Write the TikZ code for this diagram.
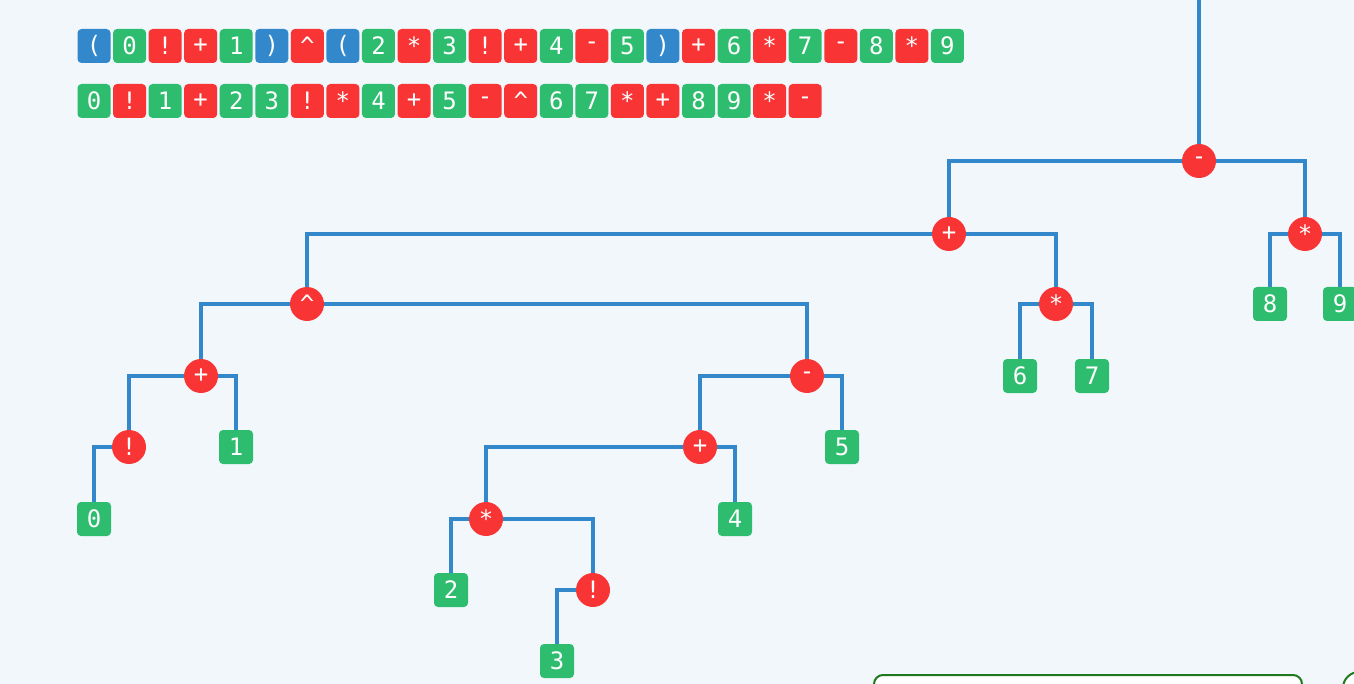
\documentclass[tikz,border=0pt]{standalone}
\usepackage{fontspec}
\setmonofont{DejaVu Sans Mono}
\usetikzlibrary{backgrounds}
\definecolor{tokblue}{HTML}{3388CC}
\definecolor{tokgreen}{HTML}{2EBD6F}
\definecolor{tokred}{HTML}{F93434}
\definecolor{paper}{HTML}{F2F7FC}
\definecolor{boxgreen}{HTML}{1F7A1F}

\begin{document}
\begin{tikzpicture}[x=1pt,y=-1pt,
  tok/.style={rounded corners=4pt, minimum width=33pt, minimum height=34pt, inner sep=0pt,
    text=white, font=\ttfamily\fontsize{24}{28}\selectfont},
  paren/.style={tok, fill=tokblue},
  num/.style={tok, fill=tokgreen},
  op/.style={tok, fill=tokred},
  leaf/.style={num, minimum width=34pt},
  opnode/.style={circle, fill=tokred, minimum size=34pt, inner sep=0pt,
    text=white, font=\ttfamily\fontsize{24}{28}\selectfont},
  edge/.style={draw=tokblue, line width=4.5pt}
]
\useasboundingbox (0,0) rectangle (1354,684);
\clip (0,0) rectangle (1354,684);

% the two token rows
\foreach \s/\t [count=\i from 0] in {paren/{(},num/0,op/!,op/+,num/1,paren/{)},op/\textasciicircum,paren/{(},num/2,op/*,num/3,op/!,op/+,num/4,op/-,num/5,paren/{)},op/+,num/6,op/*,num/7,op/-,num/8,op/*,num/9}
  \node[\s] (in\i) at (94+35.56*\i,46) {\t};
\foreach \s/\t [count=\i from 0] in {num/0,op/!,num/1,op/+,num/2,num/3,op/!,op/*,num/4,op/+,num/5,op/-,op/\textasciicircum,num/6,num/7,op/*,op/+,num/8,num/9,op/*,op/-}
  \node[\s] (rpn\i) at (94+35.56*\i,101) {\t};

% tree
\coordinate (top) at (1199,0);
\node[opnode] (root) at (1199,161) {-};
\node[opnode] (sumA) at (949,234) {+};
\node[opnode] (prodR) at (1305,234) {*};
\node[leaf] (leaf8) at (1270,304) {8};
\node[leaf] (leaf9) at (1340,304) {9};
\node[opnode] (pow) at (307,304) {\textasciicircum};
\node[opnode] (prodM) at (1056,304) {*};
\node[leaf] (leaf6) at (1020,376) {6};
\node[leaf] (leaf7) at (1092,376) {7};
\node[opnode] (sumL) at (201,376) {+};
\node[opnode] (diffM) at (807,376) {-};
\node[opnode] (fact0) at (129,447) {!};
\node[leaf] (leaf1) at (236,447) {1};
\node[leaf] (leaf0) at (94,519) {0};
\node[opnode] (sumM) at (700,447) {+};
\node[leaf] (leaf5) at (842,447) {5};
\node[opnode] (prodL) at (486,519) {*};
\node[leaf] (leaf4) at (735,519) {4};
\node[leaf] (leaf2) at (451,590) {2};
\node[opnode] (fact3) at (593,590) {!};
\node[leaf] (leaf3) at (557,661) {3};

% panels cut off at the bottom
\draw[boxgreen, line width=2pt, fill=white, rounded corners=9pt] (874,675) rectangle (1302,730);
\draw[boxgreen, line width=2pt, fill=white, rounded corners=16pt] (1343,672) rectangle (1420,740);

\begin{scope}[on background layer]
\fill[paper] (0,0) rectangle (1354,684);
\draw[edge] (top) -- (root);
\draw[edge] (root) -| (sumA);
\draw[edge] (root) -| (prodR);
\draw[edge] (prodR) -| (leaf8);
\draw[edge] (prodR) -| (leaf9);
\draw[edge] (sumA) -| (pow);
\draw[edge] (sumA) -| (prodM);
\draw[edge] (prodM) -| (leaf6);
\draw[edge] (prodM) -| (leaf7);
\draw[edge] (pow) -| (sumL);
\draw[edge] (pow) -| (diffM);
\draw[edge] (sumL) -| (fact0);
\draw[edge] (sumL) -| (leaf1);
\draw[edge] (fact0) -| (leaf0);
\draw[edge] (diffM) -| (sumM);
\draw[edge] (diffM) -| (leaf5);
\draw[edge] (sumM) -| (prodL);
\draw[edge] (sumM) -| (leaf4);
\draw[edge] (prodL) -| (leaf2);
\draw[edge] (prodL) -| (fact3);
\draw[edge] (fact3) -| (leaf3);
\end{scope}
\end{tikzpicture}
\end{document}
